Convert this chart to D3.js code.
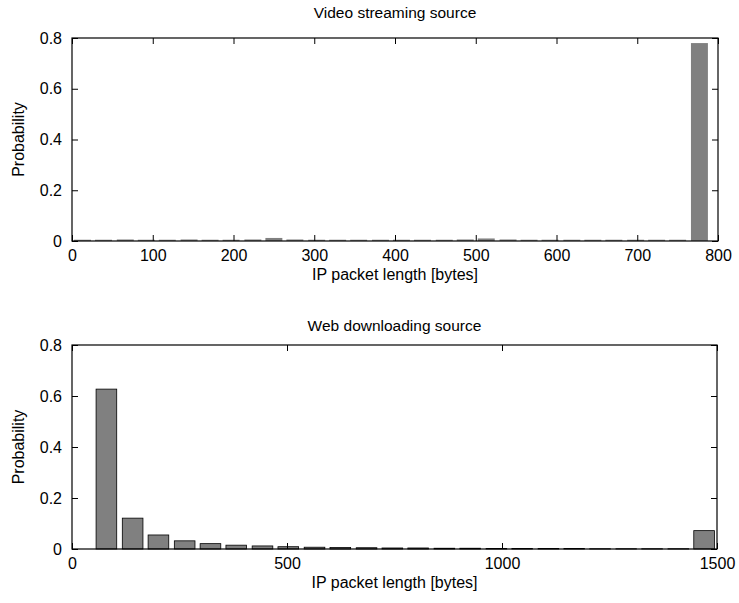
<!DOCTYPE html>
<html>
<head>
<meta charset="utf-8">
<script src="https://cdn.jsdelivr.net/npm/d3@7"></script>
<style>
  html, body { margin: 0; padding: 0; background: #fff; }
  svg { display: block; font-family: "Liberation Sans", Arial, Helvetica, sans-serif; }
</style>
</head>
<body>
<svg id="chart" width="739" height="603"></svg>
<script>
// Video streaming source: bin centres (bytes) and probabilities
const videoBins = [13, 39, 66, 92, 118, 145, 171, 197, 224, 250, 276, 303, 329, 355, 382,
                   408, 434, 461, 487, 513, 540, 566, 592, 619, 645, 671, 698, 724, 750, 777];
const videoProb = [0.005, 0.005, 0.006, 0.005, 0.005, 0.006, 0.005, 0.005, 0.006, 0.012,
                   0.006, 0.005, 0.005, 0.005, 0.005, 0.005, 0.005, 0.005, 0.006, 0.010,
                   0.006, 0.005, 0.005, 0.005, 0.005, 0.005, 0.005, 0.005, 0.005, 0.780];
const videoTicksX = [0, 100, 200, 300, 400, 500, 600, 700, 800];

// Web downloading source: bin centres (bytes) and probabilities
const webBins = [80, 141, 201, 262, 322, 382, 443, 503, 564, 624, 685, 745, 805, 866, 926,
                 987, 1047, 1108, 1168, 1228, 1289, 1349, 1410, 1470];
const webProb = [0.627, 0.121, 0.055, 0.032, 0.021, 0.015, 0.012, 0.009, 0.007, 0.006,
                 0.005, 0.004, 0.004, 0.003, 0.003, 0.002, 0.002, 0.002, 0.002, 0.001,
                 0.001, 0.001, 0.001, 0.072];
const webTicksX = [0, 500, 1000, 1500];

const probTicks = [0, 0.2, 0.4, 0.6, 0.8];

const svg = d3.select("#chart");

function panel(cfg) {
  const g = svg.append("g");
  const x = d3.scaleLinear().domain(cfg.xDomain).range([cfg.left, cfg.right]);
  const y = d3.scaleLinear().domain([0, 0.8]).range([cfg.bottom, cfg.top]);
  const tickLen = 6;

  // bars
  g.append("g").selectAll("rect")
    .data(cfg.bins.map((c, i) => ({ c, p: cfg.prob[i] })))
    .join("rect")
    .attr("x", d => x(d.c - cfg.barWidth / 2))
    .attr("width", d => x(d.c + cfg.barWidth / 2) - x(d.c - cfg.barWidth / 2))
    .attr("y", d => y(d.p))
    .attr("height", d => y(0) - y(d.p))
    .attr("fill", "#808080")
    .attr("stroke", cfg.edge ? "#000" : "none")
    .attr("stroke-width", 0.8);

  // axes with inward ticks, MATLAB-style box
  const axB = d3.axisBottom(x).tickValues(cfg.xTicks).tickSizeInner(-tickLen).tickSizeOuter(0).tickPadding(9).tickFormat(d3.format("d"));
  const axT = d3.axisTop(x).tickValues(cfg.xTicks).tickSizeInner(-tickLen).tickSizeOuter(0).tickFormat("");
  const axL = d3.axisLeft(y).tickValues(probTicks).tickSizeInner(-tickLen).tickSizeOuter(0).tickPadding(10).tickFormat(d => d === 0 ? "0" : d3.format(".1f")(d));
  const axR = d3.axisRight(y).tickValues(probTicks).tickSizeInner(-tickLen).tickSizeOuter(0).tickFormat("");

  const gb = g.append("g").attr("transform", `translate(0,${cfg.bottom})`).call(axB);
  const gt = g.append("g").attr("transform", `translate(0,${cfg.top})`).call(axT);
  const gl = g.append("g").attr("transform", `translate(${cfg.left},0)`).call(axL);
  const gr = g.append("g").attr("transform", `translate(${cfg.right},0)`).call(axR);
  [gb, gt, gl, gr].forEach(a => {
    a.selectAll(".domain").remove();
    a.selectAll("line").attr("stroke", "#000").attr("stroke-width", 1);
    a.selectAll("text").attr("fill", "#000").style("font-size", "16px")
      .style("font-family", "'Liberation Sans', Arial, sans-serif");
  });

  g.append("rect")
    .attr("x", cfg.left).attr("y", cfg.top)
    .attr("width", cfg.right - cfg.left).attr("height", cfg.bottom - cfg.top)
    .attr("fill", "none").attr("stroke", "#000").attr("stroke-width", 1.2);

  // title and axis labels
  g.append("text")
    .attr("x", (cfg.left + cfg.right) / 2).attr("y", cfg.titleY)
    .attr("text-anchor", "middle").style("font-size", "15.5px")
    .text(cfg.title);
  g.append("text")
    .attr("x", (cfg.left + cfg.right) / 2).attr("y", cfg.bottom + 39)
    .attr("text-anchor", "middle").style("font-size", "16px")
    .text("IP packet length [bytes]");
  g.append("text")
    .attr("transform", `translate(${cfg.left - 48},${(cfg.top + cfg.bottom) / 2}) rotate(-90)`)
    .attr("text-anchor", "middle").style("font-size", "16px")
    .text("Probability");
}

panel({
  title: "Video streaming source", titleY: 18,
  xDomain: [0, 800], xTicks: videoTicksX,
  bins: videoBins, prob: videoProb, barWidth: 21, edge: false,
  left: 72, right: 718, top: 38, bottom: 241
});

panel({
  title: "Web downloading source", titleY: 331,
  xDomain: [0, 1500], xTicks: webTicksX,
  bins: webBins, prob: webProb, barWidth: 48, edge: true,
  left: 72, right: 717, top: 345, bottom: 549
});
</script>
</body>
</html>
